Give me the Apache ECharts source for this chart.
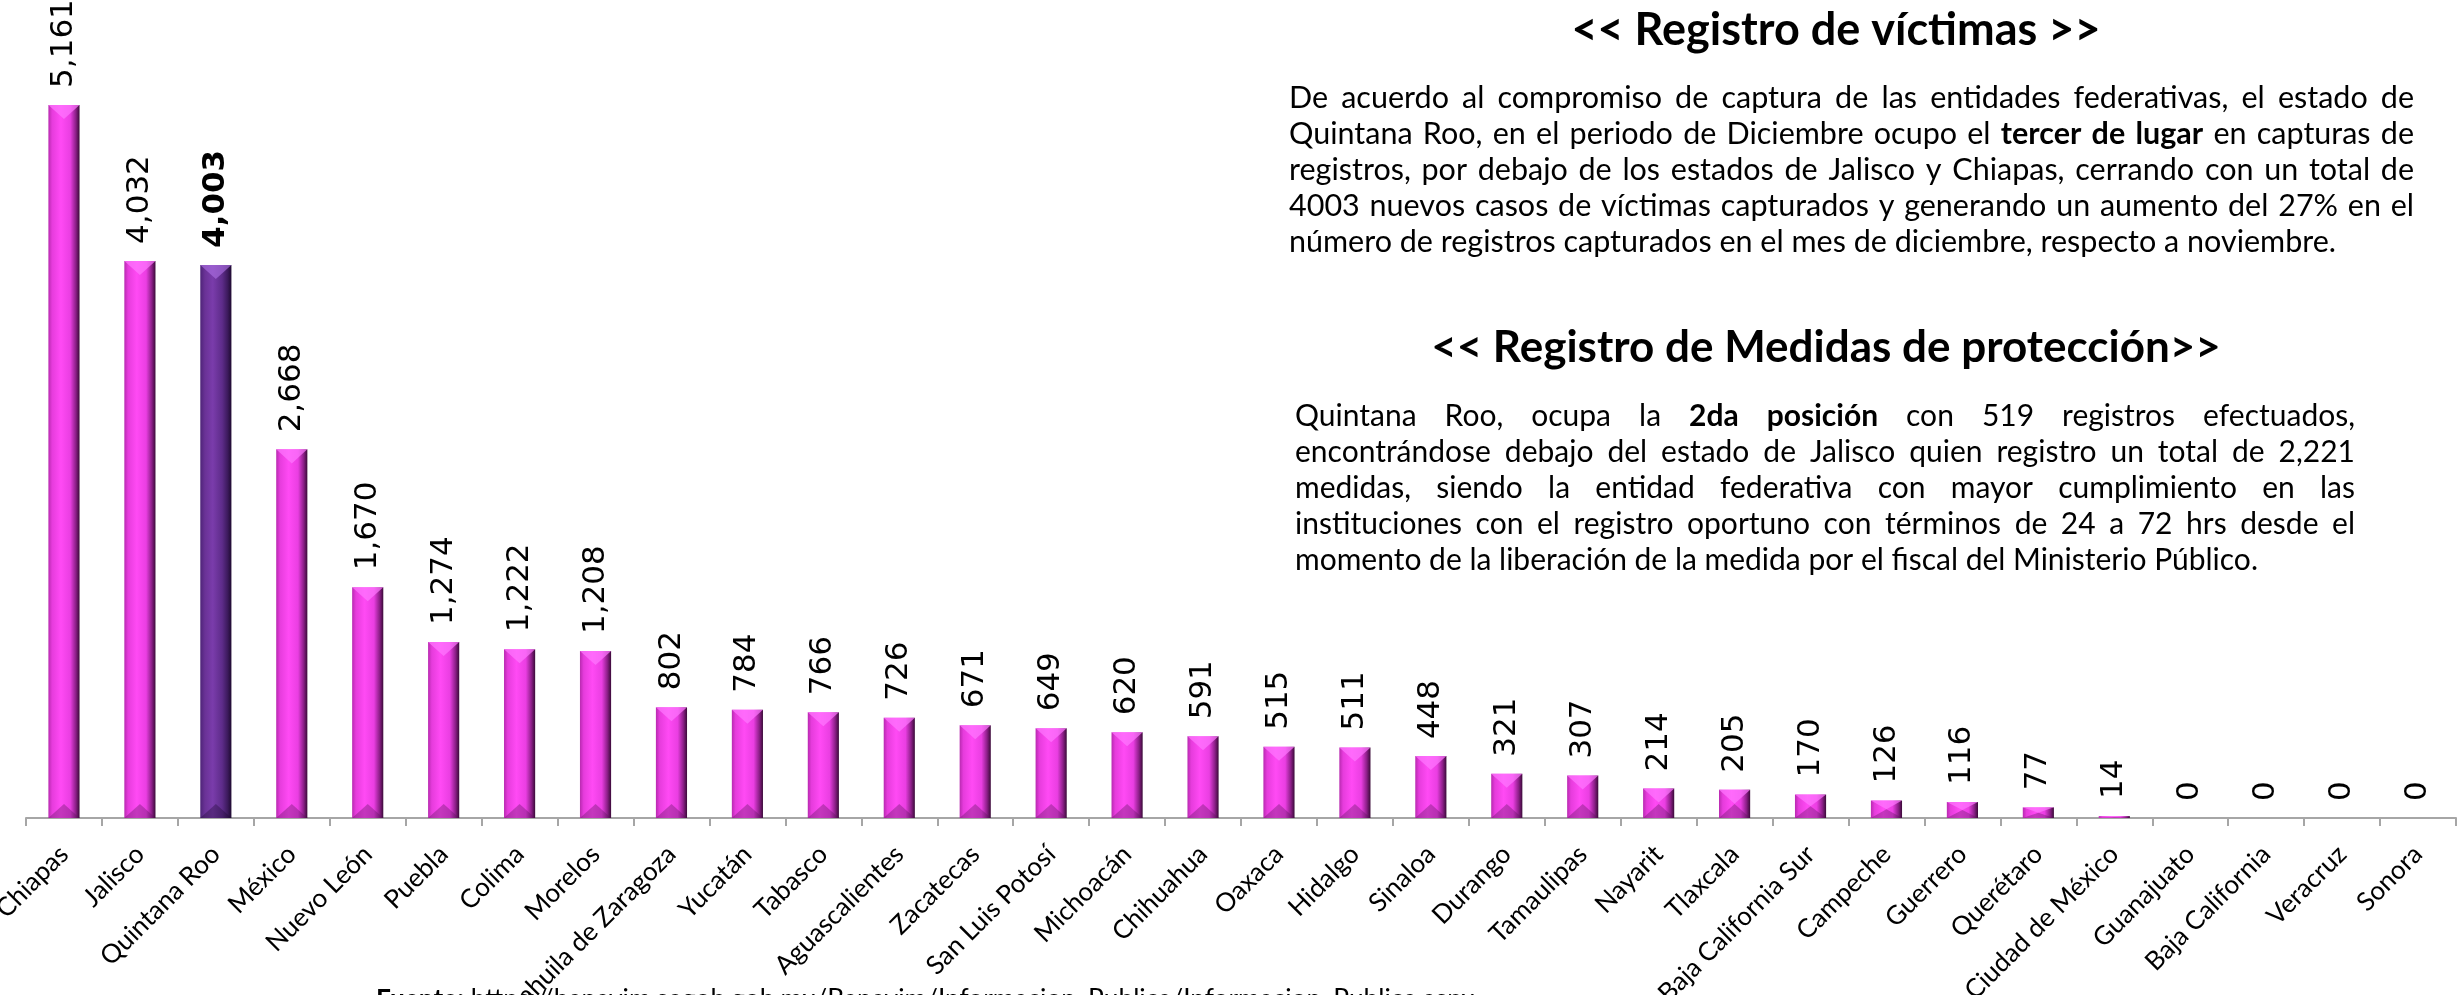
<!DOCTYPE html>
<html>
<head>
<meta charset="utf-8">
<title>Registro de víctimas</title>
<script src="https://cdn.jsdelivr.net/npm/echarts@6/dist/echarts.min.js"></script>
<style>
  html, body { margin: 0; padding: 0; background: #fff; }
  #chart { width: 2458px; height: 995px; }
</style>
</head>
<body>
<div id="chart"></div>
<script>
// datos por entidad federativa
const estados = ['Chiapas', 'Jalisco', 'Quintana Roo', 'México', 'Nuevo León', 'Puebla', 'Colima', 'Morelos',
    'Coahuila de Zaragoza', 'Yucatán', 'Tabasco', 'Aguascalientes', 'Zacatecas', 'San Luis Potosí', 'Michoacán',
    'Chihuahua', 'Oaxaca', 'Hidalgo', 'Sinaloa', 'Durango', 'Tamaulipas', 'Nayarit', 'Tlaxcala', 'Baja California Sur',
    'Campeche', 'Guerrero', 'Querétaro', 'Ciudad de México', 'Guanajuato', 'Baja California', 'Veracruz', 'Sonora'];
const victimas = [5161, 4032, 4003, 2668, 1670, 1274, 1222, 1208, 802, 784, 766, 726, 671, 649, 620,
    591, 515, 511, 448, 321, 307, 214, 205, 170, 126, 116, 77, 14, 0, 0, 0, 0];
const destacado = 'Quintana Roo';

// textos
const titulo1 = '<< Registro de víctimas >>';
const parrafo1 = [
    'De acuerdo al compromiso de captura de las entidades federativas, el estado de',
    'Quintana Roo, en el periodo de Diciembre ocupo el **tercer de lugar** en capturas de',
    'registros, por debajo de los estados de Jalisco y Chiapas, cerrando con un total de',
    '4003 nuevos casos de víctimas capturados y generando un aumento del 27% en el',
    'número de registros capturados en el mes de diciembre, respecto a noviembre.'
];
const titulo2 = '<< Registro de Medidas de protección>>';
const parrafo2 = [
    'Quintana Roo, ocupa la **2da posición** con 519 registros efectuados,',
    'encontrándose debajo del estado de Jalisco quien registro un total de 2,221',
    'medidas, siendo la entidad federativa con mayor cumplimiento en las',
    'instituciones con el registro oportuno con términos de 24 a 72 hrs desde el',
    'momento de la liberación de la medida por el fiscal del Ministerio Público.'
];
const fuente = 'https://banavim.segob.gob.mx/Banavim/Informacion_Publica/Informacion_Publica.aspx';

const FONT_TXT = 'Lato';
const chart = echarts.init(document.getElementById('chart'));

const pinkGrad = new echarts.graphic.LinearGradient(0, 0, 1, 0, [
    { offset: 0, color: '#b82ab0' },
    { offset: 0.12, color: '#e63cdc' },
    { offset: 0.4, color: '#ff4af4' },
    { offset: 0.7, color: '#ea3ee2' },
    { offset: 0.88, color: '#8c1f88' },
    { offset: 1, color: '#3a0a38' }
]);
const purpleGrad = new echarts.graphic.LinearGradient(0, 0, 1, 0, [
    { offset: 0, color: '#4e2478' },
    { offset: 0.15, color: '#6a3296' },
    { offset: 0.4, color: '#7a3cab' },
    { offset: 0.7, color: '#5e2c8a' },
    { offset: 0.88, color: '#3c1a5c' },
    { offset: 1, color: '#1e0a30' }
]);

const barData = victimas.map((v, i) => {
    const hi = estados[i] === destacado;
    return {
        value: v,
        itemStyle: { color: hi ? purpleGrad : pinkGrad },
        label: { fontWeight: hi ? 'bold' : 'normal' }
    };
});

// medir texto para justificar
const ctx = document.createElement('canvas').getContext('2d');
function medir(txt, size, bold) {
    ctx.font = (bold ? 'bold ' : '') + size + 'px ' + FONT_TXT;
    return ctx.measureText(txt).width;
}

function lineaJustificada(linea, x, y, ancho, size, justificar) {
    const palabras = [];
    linea.split('**').forEach((seg, k) => {
        seg.split(' ').filter(Boolean).forEach(w => palabras.push({ w, b: k % 2 === 1 }));
    });
    const anchos = palabras.map(p => medir(p.w, size, p.b));
    const total = anchos.reduce((a, b) => a + b, 0);
    const hueco = justificar && palabras.length > 1
        ? (ancho - total) / (palabras.length - 1)
        : medir(' ', size, false);
    const els = [];
    let cx = x;
    palabras.forEach((p, i) => {
        els.push({
            type: 'text', x: cx, y: y, silent: true,
            style: {
                text: p.w, fill: '#000', fontSize: size, fontFamily: FONT_TXT,
                fontWeight: p.b ? 'bold' : 'normal', align: 'left', verticalAlign: 'middle'
            }
        });
        cx += anchos[i] + hueco;
    });
    return els;
}

function bloque(lineas, x, y0, paso, ancho, size) {
    let out = [];
    lineas.forEach((l, i) => {
        out = out.concat(lineaJustificada(l, x, y0 + i * paso, ancho, size, i < lineas.length - 1));
    });
    return out;
}

const graficos = [].concat(
    [{
        type: 'text', x: 1836, y: 30, silent: true,
        style: { text: titulo1, fill: '#000', fontSize: 45, fontWeight: 'bold', fontFamily: FONT_TXT, align: 'center', verticalAlign: 'middle' }
    }],
    bloque(parrafo1, 1289, 98, 36, 1125, 30.5),
    [{
        type: 'text', x: 1826, y: 348, silent: true,
        style: { text: titulo2, fill: '#000', fontSize: 44, fontWeight: 'bold', fontFamily: FONT_TXT, align: 'center', verticalAlign: 'middle' }
    }],
    bloque(parrafo2, 1295, 416, 36, 1060, 30),
    [{
        type: 'text', x: 376, y: 987, silent: true,
        style: {
            text: '{b|Fuente:} ' + fuente, fill: '#000', fontSize: 26.3, fontFamily: FONT_TXT,
            align: 'left', verticalAlign: 'top',
            rich: { b: { fontWeight: 'bold', fontSize: 26.3, fontFamily: FONT_TXT } }
        }
    }]
);

chart.setOption({
    backgroundColor: '#fff',
    animation: false,
    grid: { left: 26, right: 2, top: -11, bottom: 177, containLabel: false, outerBoundsMode: 'none' },
    xAxis: {
        type: 'category',
        data: estados,
        axisLine: { lineStyle: { color: '#a6a6a6', width: 2 } },
        axisTick: { show: true, length: 8, lineStyle: { color: '#a6a6a6', width: 2 } },
        axisLabel: {
            rotate: 45, interval: 0, margin: 32, color: '#000',
            fontSize: 26, fontFamily: FONT_TXT
        }
    },
    yAxis: {
        type: 'value', min: 0, max: 6000, show: false, splitLine: { show: false }
    },
    series: [
        {
            type: 'bar',
            data: barData,
            barWidth: '41%',
            label: {
                show: true, position: 'top', distance: 17, rotate: 90,
                align: 'left', verticalAlign: 'middle',
                fontSize: 31, fontFamily: 'DejaVu Sans', color: '#000',
                formatter: p => p.value.toLocaleString('en-US')
            }
        },
        {
            // biseles de las barras
            type: 'custom',
            silent: true,
            data: victimas.map((v, i) => [i, v]),
            renderItem: (params, api) => {
                const i = api.value(0);
                const v = api.value(1);
                if (!v) return null;
                const top = api.coord([i, v]);
                const base = api.coord([i, 0]);
                const w = api.size([1, 0])[0] * 0.41;
                const x0 = top[0] - w / 2, x1 = top[0] + w / 2;
                const h = base[1] - top[1];
                const d = Math.min(w * 0.45, h / 2);
                const hi = estados[i] === destacado;
                return {
                    type: 'group',
                    children: [
                        {
                            type: 'polygon',
                            shape: { points: [[x0, top[1]], [x1, top[1]], [top[0], top[1] + d]] },
                            style: { fill: hi ? 'rgba(170,110,225,0.65)' : 'rgba(255,120,255,0.7)' }
                        },
                        {
                            type: 'polygon',
                            shape: { points: [[x0, base[1]], [x1, base[1]], [top[0], base[1] - d]] },
                            style: { fill: hi ? 'rgba(30,10,50,0.35)' : 'rgba(90,20,90,0.35)' }
                        }
                    ]
                };
            },
            z: 3
        }
    ],
    graphic: graficos
});
</script>
</body>
</html>
